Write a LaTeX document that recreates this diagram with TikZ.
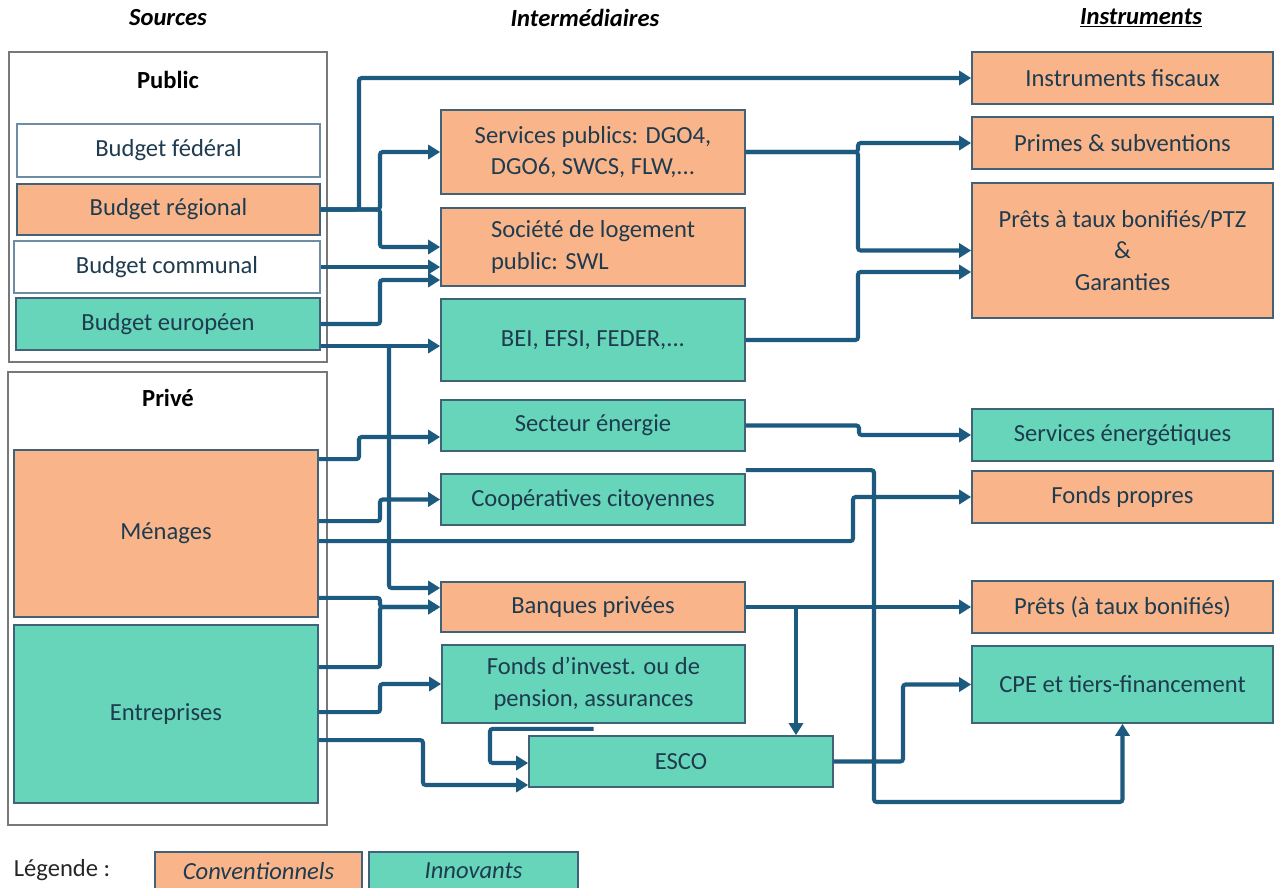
\documentclass[tikz,border=0pt]{standalone}
\usepackage{fontspec}
\setmainfont{Carlito}
\usetikzlibrary{arrows.meta,calc}

\definecolor{convfill}{RGB}{249,181,137}
\definecolor{innovfill}{RGB}{102,213,185}
\definecolor{boxline}{RGB}{65,99,122}
\definecolor{blankline}{RGB}{110,140,163}
\definecolor{boxtext}{RGB}{31,59,79}
\definecolor{frameline}{RGB}{120,120,120}
\definecolor{linkblue}{RGB}{29,90,128}

\begin{document}
\begin{tikzpicture}[x=0.02cm,y=-0.02cm,font=\fontsize{14}{18}\selectfont,
  box/.style={draw=boxline,line width=1pt,text=boxtext,align=center,inner sep=2pt},
  conv/.style={box,fill=convfill},
  innov/.style={box,fill=innovfill},
  blank/.style={box,draw=blankline,fill=white},
  outer/.style={draw=frameline,line width=1.3pt},
  head/.style={font=\fontsize{14}{18}\selectfont\bfseries\itshape},
  link/.style={draw=linkblue,line width=2.3pt,rounded corners=1.5pt,-{Triangle[length=6.8pt,width=8pt]}}]
\useasboundingbox (0,0) rectangle (1275,887);

% headings
\node[head] (hsrc) at (168,18) {Sources};
\node[head] (hint) at (585,18) {Intermédiaires};
\node[head] (hins) at (1141,18) {\underline{Instruments}};

% sources
\node[outer,minimum width=6.36cm,minimum height=6.20cm] (pub) at (168,207) {};
\node[font=\fontsize{14}{18}\selectfont\bfseries] (tpub) at (168,80) {Public};
\node[blank,minimum width=6.06cm,minimum height=1.06cm] (bfed) at (168.5,150.5) {Budget fédéral};
\node[conv,minimum width=6.06cm,minimum height=1.02cm] (breg) at (168.5,209.5) {Budget régional};
\node[blank,minimum width=6.12cm,minimum height=1.04cm] (bcom) at (167,267) {Budget communal};
\node[innov,minimum width=6.08cm,minimum height=1.04cm] (beur) at (168,324) {Budget européen};

\node[outer,minimum width=6.38cm,minimum height=9.06cm] (priv) at (167.5,598.5) {};
\node[font=\fontsize{14}{18}\selectfont\bfseries] (tpriv) at (168,398) {Privé};
\node[conv,minimum width=6.08cm,minimum height=3.34cm] (men) at (166,533.5) {Ménages};
\node[innov,minimum width=6.08cm,minimum height=3.56cm] (ent) at (166,714) {Entreprises};

% intermediaires
\node[conv,minimum width=6.08cm,minimum height=1.68cm] (serv) at (593,152) {Services publics: DGO4,\\DGO6, SWCS, FLW,...};
\node[conv,align=left,minimum width=6.08cm,minimum height=1.56cm] (soc) at (593,247) {Société de logement\\public: SWL};
\node[innov,minimum width=6.08cm,minimum height=1.64cm] (bei) at (593,340) {BEI, EFSI, FEDER,...};
\node[innov,minimum width=6.08cm,minimum height=1.02cm] (sect) at (593,425.5) {Secteur énergie};
\node[innov,minimum width=6.08cm,minimum height=1.02cm] (coop) at (593,499.5) {Coopératives citoyennes};
\node[conv,minimum width=6.08cm,minimum height=1.00cm] (banq) at (593,607) {Banques privées};
\node[innov,minimum width=6.06cm,minimum height=1.56cm] (fonds) at (593.5,684) {Fonds d’invest. ou de\\pension, assurances};
\node[innov,minimum width=6.08cm,minimum height=1.02cm] (esco) at (681,761.5) {ESCO};

% instruments
\node[conv,minimum width=6.02cm,minimum height=1.04cm] (fisc) at (1122.5,78) {Instruments fiscaux};
\node[conv,minimum width=6.02cm,minimum height=1.04cm] (prim) at (1122.5,143) {Primes \& subventions};
\node[conv,minimum width=6.02cm,minimum height=2.70cm] (pret) at (1122.5,250.5) {Prêts à taux bonifiés/PTZ\\\&\\Garanties};
\node[innov,minimum width=6.02cm,minimum height=1.04cm] (senr) at (1122.5,435) {Services énergétiques};
\node[conv,minimum width=6.02cm,minimum height=1.04cm] (fprop) at (1122.5,497) {Fonds propres};
\node[conv,minimum width=6.02cm,minimum height=1.04cm] (prets) at (1122.5,607) {Prêts (à taux bonifiés)};
\node[innov,minimum width=6.02cm,minimum height=1.54cm] (cpe) at (1122.5,684.5) {CPE et tiers-financement};

% legende
\node[text=black!85] (tleg) at (62,870) {Légende :};
\node[conv,minimum width=4.14cm,minimum height=0.76cm,font=\fontsize{14}{18}\selectfont\itshape] (leg1) at (258.5,871) {Conventionnels};
\node[innov,minimum width=4.18cm,minimum height=0.76cm,font=\fontsize{14}{18}\selectfont\itshape] (leg2) at (473.5,871) {Innovants};

% flux
\coordinate (eusplit) at (389,346);
\draw[link] (breg.east) -| (359,78) -- (fisc.west);
\draw[link] (breg.east) -| (380,152) -- (serv.west);
\draw[link] (breg.east) -| (380,247) -- (soc.west);
\draw[link] (bcom.east) -- (bcom.east -| soc.west);
\draw[link] (beur.east) -| (380,280) -- (soc.west |- 0,280);
\draw[link] ($(beur.east)+(0,22)$) -- (bei.west |- 0,346);
\draw[link] (eusplit) |- (banq.west |- 0,588);
\draw[link] ($(men.north east)+(0,10)$) -| (359,437) -- (sect.west |- 0,437);
\draw[link] ($(men.north east)+(0,72)$) -| (380,499.5) -- (coop.west);
\draw[link] ($(men.north east)+(0,92)$) -| (853,497) -- (fprop.west);
\draw[link] ($(men.south east)+(0,-20)$) -| (380,607) -- (banq.west);
\draw[link] ($(ent.north east)+(0,43)$) -| (380,607) -- (banq.west);
\draw[link] ($(ent.north east)+(0,88)$) -| (380,684) -- (fonds.west);
\draw[link] ($(ent.north east)+(0,116)$) -| (423,785) -- (esco.west |- 0,785);
\draw[link] ($(fonds.south)+(0,5)$) -| (490,763) -- (esco.west |- 0,763);
\draw[link] (serv.east) -| (858,143) -- (prim.west);
\draw[link] (serv.east) -| (858,250.5) -- (pret.west);
\draw[link] (bei.east) -| (858,272) -- (pret.west |- 0,272);
\draw[link] (sect.east) -| (859,435) -- (senr.west);
\draw[link] ($(coop.north east)+(0,-3)$) -| (874,802) -| (cpe.south);
\draw[link] (banq.east) -- (prets.west);
\draw[link] (796,0 |- banq.east) -- (796,0 |- esco.north);
\draw[link] (esco.east) -| (903,684.5) -- (cpe.west);
\end{tikzpicture}
\end{document}
